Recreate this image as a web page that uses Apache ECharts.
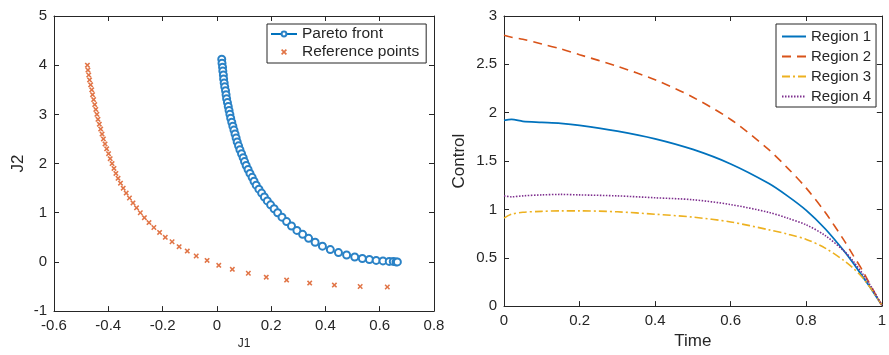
<!DOCTYPE html>
<html>
<head>
<meta charset="utf-8">
<script src="https://cdn.jsdelivr.net/npm/echarts@6/dist/echarts.min.js"></script>
<style>
  html, body { margin: 0; padding: 0; background: #fff; }
  #chart { width: 889px; height: 355px; }
</style>
</head>
<body>
<div id="chart"></div>
<script>
// left panel: Pareto front vs reference points
const paretoJ1 = [0.018, 0.019, 0.021, 0.022, 0.024, 0.025, 0.027, 0.029, 0.032, 0.034, 0.036, 0.039, 0.042, 0.045, 0.048,
  0.051, 0.055, 0.059, 0.063, 0.067, 0.071, 0.075, 0.080, 0.085, 0.091, 0.097, 0.102, 0.108, 0.115, 0.122,
  0.130, 0.137, 0.145, 0.155, 0.165, 0.175, 0.186, 0.198, 0.211, 0.224, 0.240, 0.257, 0.275, 0.295, 0.316,
  0.338, 0.362, 0.389, 0.418, 0.448, 0.478, 0.508, 0.536, 0.562, 0.587, 0.612, 0.635, 0.650, 0.660, 0.665];
const paretoJ2 = [4.12, 4.04, 3.96, 3.88, 3.80, 3.72, 3.64, 3.56, 3.48, 3.40, 3.32, 3.24, 3.16, 3.08, 3.00,
  2.92, 2.84, 2.76, 2.68, 2.60, 2.52, 2.44, 2.36, 2.28, 2.20, 2.12, 2.04, 1.96, 1.88, 1.80,
  1.72, 1.64, 1.56, 1.48, 1.40, 1.32, 1.24, 1.16, 1.08, 1.00, 0.91, 0.82, 0.73, 0.64, 0.56,
  0.48, 0.40, 0.32, 0.25, 0.19, 0.14, 0.10, 0.07, 0.05, 0.03, 0.02, 0.01, 0.01, 0.00, 0.00];

const refJ1 = [-0.477, -0.475, -0.472, -0.469, -0.465, -0.461, -0.458, -0.454, -0.450, -0.446, -0.442, -0.438,
  -0.433, -0.428, -0.423, -0.418, -0.412, -0.406, -0.399, -0.393, -0.386, -0.379, -0.372, -0.364, -0.355,
  -0.345, -0.334, -0.322, -0.309, -0.296, -0.282, -0.267, -0.250, -0.232, -0.211, -0.190, -0.165, -0.139,
  -0.109, -0.076, -0.036, 0.007, 0.057, 0.116, 0.182, 0.257, 0.342, 0.433, 0.528, 0.628];
const refJ2 = [4.0, 3.9, 3.8, 3.7, 3.6, 3.5, 3.4, 3.3, 3.2, 3.1, 3.0, 2.9,
  2.8, 2.7, 2.6, 2.5, 2.4, 2.3, 2.2, 2.1, 2.0, 1.9, 1.8, 1.7, 1.6,
  1.5, 1.4, 1.3, 1.2, 1.1, 1.0, 0.9, 0.8, 0.7, 0.6, 0.5, 0.41, 0.31,
  0.22, 0.12, 0.03, -0.07, -0.15, -0.23, -0.31, -0.37, -0.43, -0.47, -0.50, -0.51];

// right panel: control per region
const time = [0, 0.02, 0.05, 0.1, 0.15, 0.2, 0.3, 0.4, 0.5, 0.6, 0.7, 0.75, 0.8, 0.85, 0.9, 0.925, 0.95, 0.975, 1];
const region1 = [1.92, 1.93, 1.91, 1.90, 1.89, 1.87, 1.81, 1.73, 1.62, 1.47, 1.27, 1.14, 0.99, 0.80, 0.57, 0.44, 0.30, 0.16, 0.01];
const region2 = [2.80, 2.78, 2.76, 2.71, 2.66, 2.60, 2.48, 2.34, 2.16, 1.93, 1.62, 1.43, 1.22, 0.97, 0.68, 0.52, 0.36, 0.18, 0.01];
const region3 = [0.91, 0.95, 0.97, 0.98, 0.985, 0.985, 0.975, 0.95, 0.92, 0.87, 0.79, 0.745, 0.69, 0.60, 0.47, 0.39, 0.29, 0.16, 0.01];
const region4 = [1.14, 1.13, 1.14, 1.15, 1.155, 1.15, 1.14, 1.12, 1.10, 1.05, 0.97, 0.91, 0.84, 0.73, 0.57, 0.46, 0.33, 0.18, 0.01];

const leftXTicks = [-0.6, -0.4, -0.2, 0, 0.2, 0.4, 0.6, 0.8];
const leftYTicks = [-1, 0, 1, 2, 3, 4, 5];
const rightXTicks = [0, 0.2, 0.4, 0.6, 0.8, 1];
const rightYTicks = [0, 0.5, 1, 1.5, 2, 2.5, 3];

const ink = '#262626';
const font = '"Liberation Sans", Arial, sans-serif';
const crossPath = 'path://M2,0L5,3L8,0L10,2L7,5L10,8L8,10L5,7L2,10L0,8L3,5L0,2Z';

function axis(ticks, gridIndex, position, labels, extra) {
  return Object.assign({
    type: 'value',
    gridIndex: gridIndex,
    position: position,
    min: ticks[0],
    max: ticks[ticks.length - 1],
    interval: ticks[1] - ticks[0],
    axisLine: { show: true, onZero: false, lineStyle: { color: ink, width: 1 } },
    axisTick: { show: true, inside: true, length: 5, lineStyle: { color: ink } },
    axisLabel: {
      show: labels, color: ink, fontSize: 15, fontFamily: font, margin: 7,
      formatter: (v) => String(Math.round(v * 10) / 10)
    },
    splitLine: { show: false }
  }, extra || {});
}

const chart = echarts.init(document.getElementById('chart'));

const option = {
  animation: false,
  backgroundColor: '#fff',
  grid: [
    { left: 54, right: 455, top: 16, bottom: 39 },
    { left: 504, right: 4, top: 16, bottom: 41 }
  ],
  xAxis: [
    axis(leftXTicks, 0, 'bottom', true, {
      name: 'J1', nameLocation: 'middle', nameGap: 22,
      nameTextStyle: { color: ink, fontSize: 12, fontFamily: font }
    }),
    axis(leftXTicks, 0, 'top', false),
    axis(rightXTicks, 1, 'bottom', true, {
      name: 'Time', nameLocation: 'middle', nameGap: 23,
      nameTextStyle: { color: ink, fontSize: 17, fontFamily: font }
    }),
    axis(rightXTicks, 1, 'top', false)
  ],
  yAxis: [
    axis(leftYTicks, 0, 'left', true, {
      name: 'J2', nameLocation: 'middle', nameGap: 27,
      nameTextStyle: { color: ink, fontSize: 17, fontFamily: font }
    }),
    axis(leftYTicks, 0, 'right', false),
    axis(rightYTicks, 1, 'left', true, {
      name: 'Control', nameLocation: 'middle', nameGap: 36,
      nameTextStyle: { color: ink, fontSize: 17, fontFamily: font }
    }),
    axis(rightYTicks, 1, 'right', false)
  ],
  legend: [
    {
      data: ['Pareto front', 'Reference points'],
      orient: 'vertical',
      left: 267, top: 24,
      padding: [2, 7, 3, 3],
      itemGap: 2,
      itemWidth: 26, itemHeight: 6,
      borderColor: ink, borderWidth: 1,
      backgroundColor: '#fff',
      textStyle: { color: ink, fontSize: 15.5, fontFamily: font }
    },
    {
      data: ['Region 1', 'Region 2', 'Region 3', 'Region 4'],
      orient: 'vertical',
      left: 776, top: 24,
      padding: [5, 5, 3, 5],
      itemGap: 5,
      itemWidth: 24, itemHeight: 14,
      itemStyle: { opacity: 0 },
      borderColor: ink, borderWidth: 1,
      backgroundColor: '#fff',
      textStyle: { color: ink, fontSize: 15, fontFamily: font }
    }
  ],
  series: [
    {
      name: 'Pareto front', type: 'line',
      xAxisIndex: 0, yAxisIndex: 0,
      data: paretoJ1.map((v, i) => [v, paretoJ2[i]]),
      symbol: 'emptyCircle', symbolSize: 7,
      itemStyle: { color: '#2A82C6', borderWidth: 0.9 },
      lineStyle: { color: '#0072BD', width: 1 }
    },
    {
      name: 'Reference points', type: 'scatter',
      xAxisIndex: 0, yAxisIndex: 0,
      data: refJ1.map((v, i) => [v, refJ2[i]]),
      symbol: crossPath, symbolSize: 5.5,
      itemStyle: { color: '#D95319' }
    },
    {
      name: 'Region 1', type: 'line', xAxisIndex: 2, yAxisIndex: 2,
      data: time.map((t, i) => [t, region1[i]]),
      symbol: 'none', smooth: 0.3,
      lineStyle: { color: '#0072BD', width: 1.8 }, itemStyle: { color: '#0072BD' }
    },
    {
      name: 'Region 2', type: 'line', xAxisIndex: 2, yAxisIndex: 2,
      data: time.map((t, i) => [t, region2[i]]),
      symbol: 'none', smooth: 0.3,
      lineStyle: { color: '#D95319', width: 1.6, type: [9, 6] }, itemStyle: { color: '#D95319' }
    },
    {
      name: 'Region 3', type: 'line', xAxisIndex: 2, yAxisIndex: 2,
      data: time.map((t, i) => [t, region3[i]]),
      symbol: 'none', smooth: 0.3,
      lineStyle: { color: '#EDB120', width: 1.6, type: [8, 3, 2, 3] }, itemStyle: { color: '#EDB120' }
    },
    {
      name: 'Region 4', type: 'line', xAxisIndex: 2, yAxisIndex: 2,
      data: time.map((t, i) => [t, region4[i]]),
      symbol: 'none', smooth: 0.3,
      lineStyle: { color: '#7E2F8E', width: 1.6, type: [1.5, 1.5] }, itemStyle: { color: '#7E2F8E' }
    }
  ]
};

chart.setOption(option);
window.addEventListener('resize', () => chart.resize());
</script>
</body>
</html>
